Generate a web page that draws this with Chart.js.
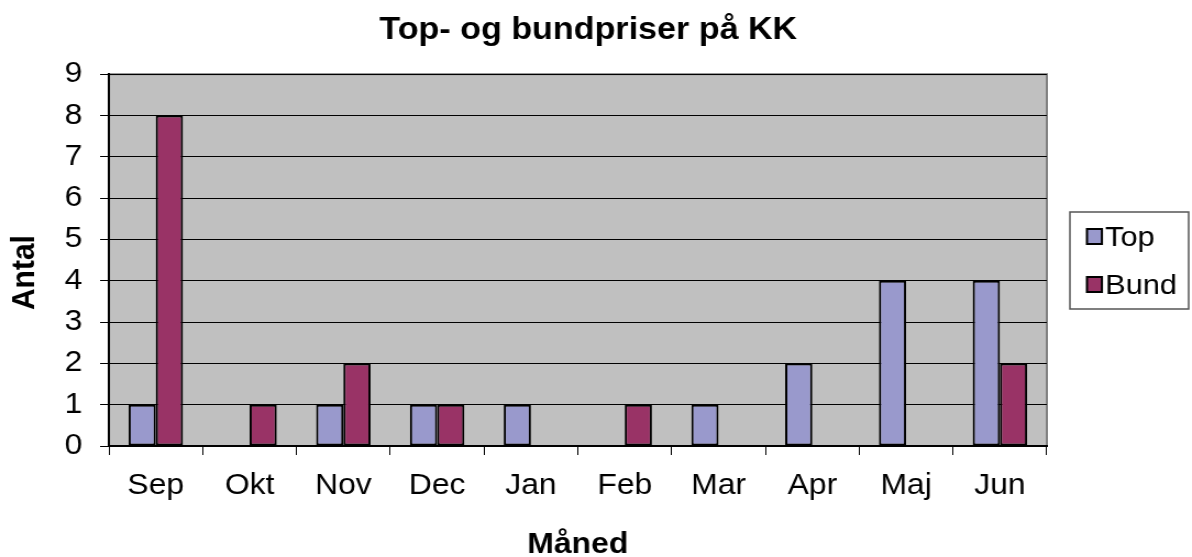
<!DOCTYPE html>
<html>
<head>
<meta charset="utf-8">
<script src="https://cdn.jsdelivr.net/npm/chart.js@4"></script>
<style>
  html, body { margin: 0; padding: 0; background: #fff; overflow: hidden; }
  /* the original picture is stretched sideways by about 10%, so the canvas is too */
  #wrap { width: 1084px; height: 557px; transform: scaleX(1.0996); transform-origin: 0 0; }
</style>
</head>
<body>
<div id="wrap"><canvas id="kkChart" width="1084" height="557"></canvas></div>
<script>
// chart data
const months = ['Sep', 'Okt', 'Nov', 'Dec', 'Jan', 'Feb', 'Mar', 'Apr', 'Maj', 'Jun'];
const topCounts = [1, 0, 1, 1, 1, 0, 1, 2, 4, 4];
const bundCounts = [8, 1, 2, 1, 0, 1, 0, 0, 0, 2];
const yTicks = [0, 1, 2, 3, 4, 5, 6, 7, 8, 9];

const FONT = '"Liberation Sans", Arial, sans-serif';

// grey plot area with a thin frame
const plotBackground = {
    id: 'plotBackground',
    beforeDraw(chart) {
        const { ctx, chartArea: a } = chart;
        ctx.save();
        ctx.fillStyle = '#c0c0c0';
        ctx.fillRect(a.left, a.top, a.right - a.left, a.bottom - a.top);
        ctx.strokeStyle = '#808080';
        ctx.lineWidth = 2;
        ctx.strokeRect(a.left, a.top, a.right - a.left, a.bottom - a.top);
        ctx.restore();
    }
};

// boxed legend on the right, like the old excel charts
const boxLegend = {
    id: 'boxLegend',
    afterDraw(chart) {
        const { ctx, chartArea: a } = chart;
        const x = a.right + 21, y = 212, w = 108, h = 97;
        ctx.save();
        ctx.fillStyle = '#fff';
        ctx.fillRect(x, y, w, h);
        ctx.strokeStyle = '#555';
        ctx.lineWidth = 1.5;
        ctx.strokeRect(x, y, w, h);
        ctx.font = '28px ' + FONT;
        ctx.textBaseline = 'middle';
        chart.data.datasets.forEach((ds, i) => {
            const cy = y + 25 + i * 48;
            ctx.fillStyle = ds.backgroundColor;
            ctx.fillRect(x + 15.5, cy - 8, 13.6, 15);
            ctx.strokeStyle = '#000';
            ctx.lineWidth = 2;
            ctx.strokeRect(x + 15.5, cy - 8, 13.6, 15);
            ctx.fillStyle = '#000';
            ctx.fillText(ds.label, x + 32, cy + 1);
        });
        ctx.restore();
    }
};

function initializeChart() {
    if (typeof Chart === 'undefined') {
        console.error('Chart.js not found!');
        return;
    }
    const ctx = document.getElementById('kkChart').getContext('2d');
    new Chart(ctx, {
        type: 'bar',
        data: {
            labels: months,
            datasets: [
                {
                    label: 'Top',
                    data: topCounts,
                    backgroundColor: '#9999cc',
                    borderColor: '#000',
                    borderWidth: 2,
                    borderSkipped: false
                },
                {
                    label: 'Bund',
                    data: bundCounts,
                    backgroundColor: '#993366',
                    borderColor: '#000',
                    borderWidth: 2,
                    borderSkipped: false
                }
            ]
        },
        options: {
            responsive: false,
            animation: false,
            layout: { padding: { left: 0, right: 14, top: 0, bottom: 0 } },
            datasets: { bar: { categoryPercentage: 0.58, barPercentage: 1.0 } },
            plugins: {
                legend: { display: false },
                tooltip: { enabled: false },
                title: {
                    display: true,
                    text: 'Top- og bundpriser på KK',
                    color: '#000',
                    font: { family: FONT, size: 31, weight: 'bold' },
                    padding: { top: 12, bottom: 25 }
                }
            },
            scales: {
                x: {
                    afterFit(scale) { scale.height = 111; },
                    grid: {
                        offset: true,
                        drawOnChartArea: false,
                        drawTicks: true,
                        tickLength: 9,
                        color: '#000',
                        lineWidth: 1
                    },
                    border: { color: '#000', width: 2 },
                    ticks: {
                        color: '#000',
                        padding: 14,
                        font: { family: FONT, size: 29 }
                    },
                    title: {
                        display: true,
                        text: 'Måned',
                        color: '#000',
                        font: { family: FONT, size: 29, weight: 'bold' },
                        padding: { top: 0, bottom: -5 }
                    }
                },
                y: {
                    min: 0,
                    max: 9,
                    afterFit(scale) { scale.width = 99; },
                    afterBuildTicks(scale) { scale.ticks = yTicks.map(v => ({ value: v })); },
                    grid: {
                        color: '#000',
                        lineWidth: 1,
                        tickLength: 8
                    },
                    border: { color: '#000', width: 2 },
                    ticks: {
                        color: '#000',
                        padding: 16,
                        font: { family: FONT, size: 29 }
                    },
                    title: {
                        display: true,
                        text: 'Antal   ',
                        color: '#000',
                        font: { family: FONT, size: 30, weight: 'bold' },
                        padding: { top: 5, bottom: 0 }
                    }
                },
                // empty axis that only keeps room free for the legend box
                legendRoom: {
                    type: 'linear',
                    position: 'right',
                    afterFit(scale) { scale.width = 118; },
                    grid: { display: false },
                    border: { display: false },
                    ticks: { display: false }
                }
            }
        },
        plugins: [plotBackground, boxLegend]
    });
}

document.addEventListener('DOMContentLoaded', initializeChart);
</script>
</body>
</html>
